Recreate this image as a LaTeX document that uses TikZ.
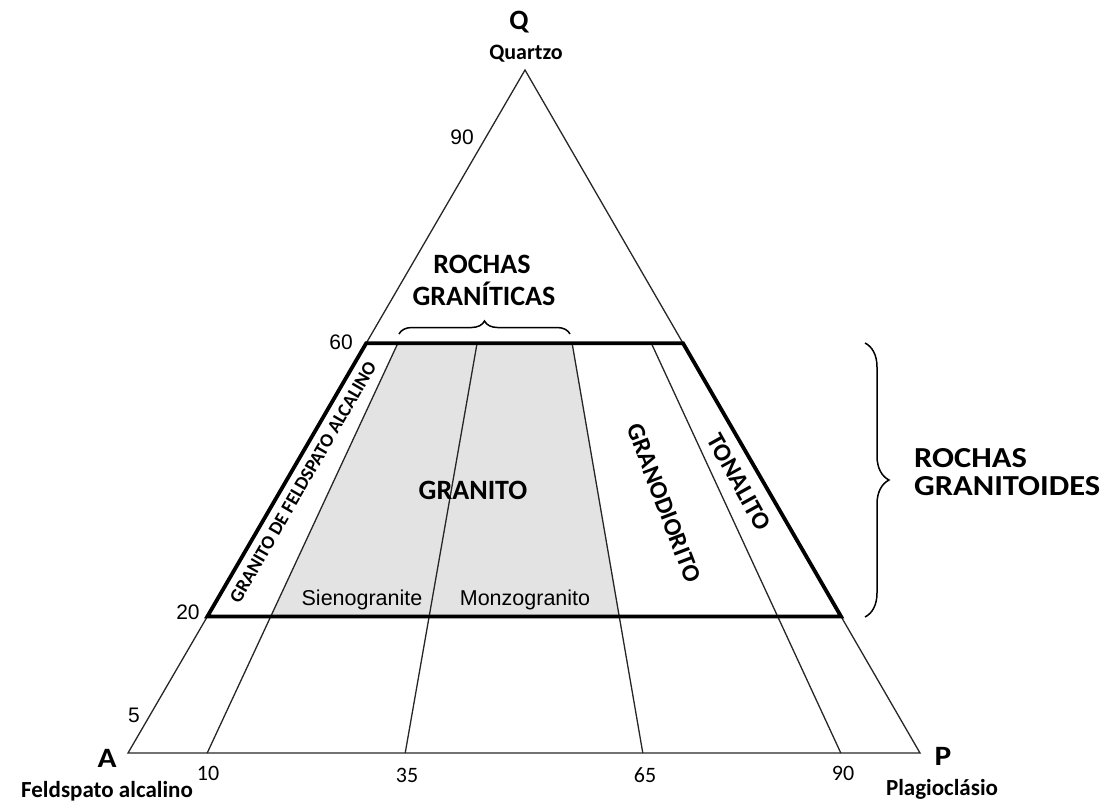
\documentclass[tikz,border=0pt]{standalone}
\usepackage{fontspec}
\setmainfont{Carlito}
\newfontfamily\arialf{Liberation Sans}
\newfontfamily\carlitowide[FakeStretch=1.12]{Carlito}
\usetikzlibrary{calc,decorations.pathreplacing}
\begin{document}
\begin{tikzpicture}[x=1pt,y=-1pt,
  thinln/.style={line width=1.3pt, draw=black!85},
  thickln/.style={line width=3.8pt, line join=miter, draw=black},
  bl/.style={font=\bfseries\fontsize{#1}{#1}\selectfont, inner sep=0pt},
  blw/.style={font=\carlitowide\bfseries\fontsize{#1}{#1}\selectfont, inner sep=0pt},
  ar/.style={font=\arialf\fontsize{#1}{#1}\selectfont, inner sep=0pt},
  rg/.style={font=\fontsize{#1}{#1}\selectfont, inner sep=0pt},
  bracestyle/.style={decorate, decoration={brace, amplitude=#1}, line width=1.5pt},
  fillgray/.style={fill=black!11}]
\useasboundingbox (0,0) rectangle (1103,801);
% vertices
\coordinate (A) at (128,753);
\coordinate (P) at (920,753);
\coordinate (Q) at (525,70);
% base points
\coordinate (b10) at ($(A)!0.10!(P)$);
\coordinate (b35) at ($(A)!0.35!(P)$);
\coordinate (b65) at ($(A)!0.65!(P)$);
\coordinate (b90) at ($(A)!0.90!(P)$);
% edge points
\coordinate (L60) at ($(A)!0.6!(Q)$);
\coordinate (L20) at ($(A)!0.2!(Q)$);
\coordinate (R60) at ($(P)!0.6!(Q)$);
\coordinate (R20) at ($(P)!0.2!(Q)$);
% field line tops / q=20 points
\coordinate (t10) at ($(b10)!0.6!(Q)$);
\coordinate (t35) at ($(b35)!0.6!(Q)$);
\coordinate (t65) at ($(b65)!0.6!(Q)$);
\coordinate (t90) at ($(b90)!0.6!(Q)$);
\coordinate (m10) at ($(b10)!0.2!(Q)$);
\coordinate (m65) at ($(b65)!0.2!(Q)$);
% grey field
\fill[fillgray] (t10) -- (t65) -- (m65) -- (m10) -- cycle;
% triangle
\draw[thinln] (A) -- (P) -- (Q) -- cycle;
% field lines
\draw[thinln] (b10) -- (t10);
\draw[thinln] (b35) -- (t35);
\draw[thinln] (b65) -- (t65);
\draw[thinln] (b90) -- (t90);
% thick trapezoid
\draw[thickln] (L20) -- (L60) -- (R60) -- (R20) -- cycle;
% braces
\coordinate (tb1) at (399,334);
\coordinate (tb2) at (570,334);
\draw[bracestyle=13pt] (tb1) -- (tb2);
\coordinate (rb1) at (865,343);
\coordinate (rb2) at (865,617);
\draw[bracestyle=24pt] (rb1) -- (rb2);
% vertex labels
\node[bl=28, anchor=base] (lQ) at (519,29) {Q};
\node[bl=22, anchor=base] (lQz) at (526,59) {Quartzo};
\node[blw=28, anchor=base] (lA) at (107,767) {A};
\node[bl=23, anchor=base] (lFa) at (107,797) {Feldspato alcalino};
\node[blw=28, anchor=base] (lP) at (943,765) {P};
\node[bl=23, anchor=base] (lPl) at (942,795) {Plagioclásio};
% base numbers
\node[rg=22, anchor=base] (n10) at (208,780) {10};
\node[rg=22, anchor=base] (n35) at (407,782) {35};
\node[rg=22, anchor=base] (n65) at (645,782) {65};
\node[rg=22, anchor=base] (n90) at (843,780) {90};
% left numbers
\node[ar=21] (q90) at (462,137) {90};
\node[ar=21] (q60) at (341,342) {60};
\node[ar=21] (q20) at (188,612) {20};
\node[ar=21] (q5) at (134,715) {5};
% field labels
\node[bl=28, anchor=base] (rgr1) at (482,273) {ROCHAS};
\node[bl=28, anchor=base] (rgr2) at (484,305) {GRANÍTICAS};
\node[bl=28] (gran) at (473,490) {GRANITO};
\node[blw=29, anchor=base west] (rgt1) at (914,467) {ROCHAS};
\node[blw=29, anchor=base west] (rgt2) at (914,495) {GRANITOIDES};
\node[bl=19, rotate=60] (gfa) at (303,482) {GRANITO DE FELDSPATO ALCALINO};
\node[bl=25, rotate=-69] (gd) at (664,503) {GRANODIORITO};
\node[bl=25, rotate=-61] (ton) at (739,482) {TONALITO};
\node[ar=21.5] (sien) at (362,600) {Sienogranite};
\node[ar=21.5] (monz) at (525,600) {Monzogranito};
\end{tikzpicture}
\end{document}
